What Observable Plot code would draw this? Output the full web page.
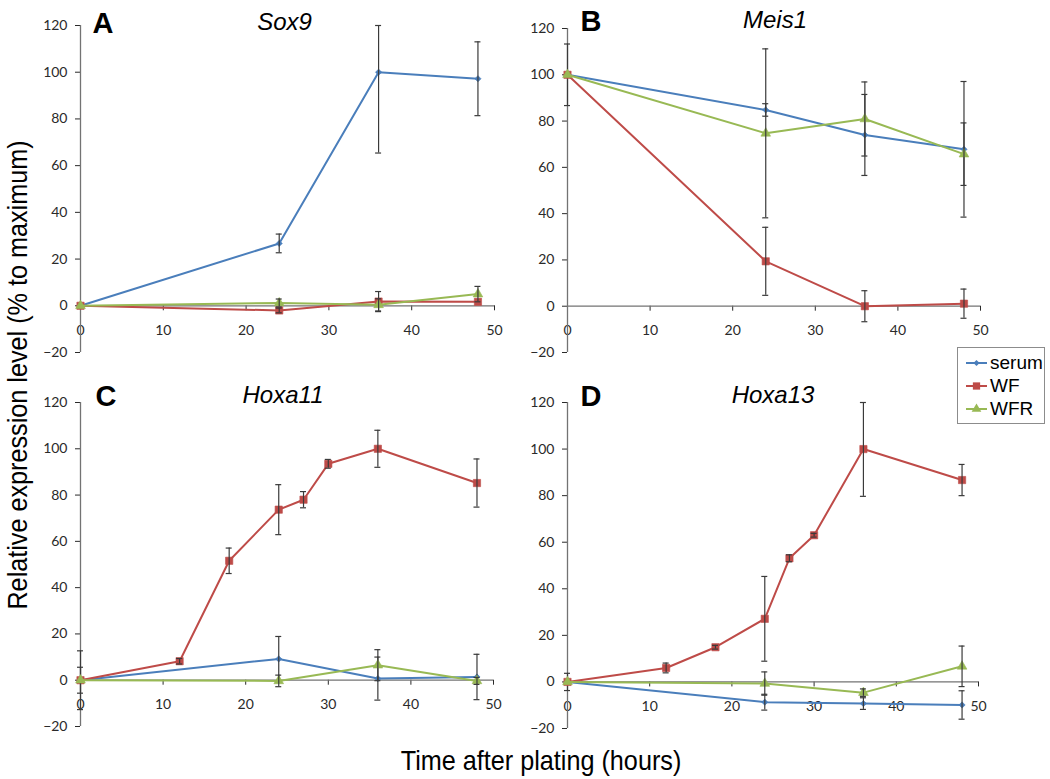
<!DOCTYPE html>
<html>
<head>
<meta charset="utf-8">
<script src="https://cdn.jsdelivr.net/npm/d3@7"></script>
<script src="https://cdn.jsdelivr.net/npm/@observablehq/plot@0.6"></script>
<style>
  body { margin: 0; background: #fff; }
  #root { position: relative; width: 1050px; height: 779px; overflow: hidden; font-family: "Liberation Sans", Arial, sans-serif; background: #fff; }
  .panel { position: absolute; }
  .axislabel { position: absolute; color: #000; font-size: 28px; line-height: 28px; text-align: center; white-space: nowrap; z-index: 5; }
  #legend { position: absolute; left: 957px; top: 347px; width: 88px; height: 77px; border: 1px solid #8c8c8c; background: #fff; z-index: 6; box-sizing: border-box; }
  .litem { position: absolute; left: 0; height: 22px; display: flex; align-items: center; font-size: 19px; color: #000; }
</style>
</head>
<body>
<div id="root"></div>
<script>
// ---- shared categories / ticks ----
const seriesNames = ["serum", "WF", "WFR"];
const seriesColors = ["#4a7ebb", "#be4b48", "#98b954"];
const seriesSymbols = ["diamond2", "square", "triangle"];
const seriesRadius = [2.8, 4.1, 3.6];
const xDomain = [0, 50];
const yDomain = [-20, 120];
const xTicks = [0, 10, 20, 30, 40, 50];
const yTicks = [-20, 0, 20, 40, 60, 80, 100, 120];
const coarseTimes = [0, 24, 36, 48];
const fineTimes = [0, 12, 18, 24, 27, 30, 36, 48];
const panelLetters = ["A", "B", "C", "D"];
const panelGenes = ["Sox9", "Meis1", "Hoxa11", "Hoxa13"];

// ---- A: Sox9 ----
const sox9Serum = [0, 26.7, 100, 97.2];
const sox9SerumErr = [0, 4, 34.6, 15.8];
const sox9WF = [0, -2, 1.8, 1.7];
const sox9WFErr = [0, 1, 4.3, 0];
const sox9WFR = [0, 1.2, 0.4, 5];
const sox9WFRErr = [0, 1.7, 2.6, 3.3];

// ---- B: Meis1 ----
const meis1Serum = [100, 84.8, 74, 67.8];
const meis1SerumErr = [13.3, 2.7, 17.5, 29.3];
const meis1WF = [100, 19.4, 0, 1.1];
const meis1WFErr = [0, 14.7, 6.7, 6.3];
const meis1WFR = [100, 74.7, 80.9, 65.7];
const meis1WFRErr = [0, 36.5, 16, 13.5];

// ---- C: Hoxa11 ----
const hoxa11Serum = [0, 9.2, 0.7, 1.4];
const hoxa11SerumErr = [12.7, 9.7, 9.3, 9.8];
const hoxa11WF = [0, 8.2, 51.6, 73.7, 78, 93.5, 100, 85.2];
const hoxa11WFErr = [5.6, 1.2, 5.5, 10.8, 3.5, 1.9, 8, 10.4];
const hoxa11WFR = [0, -0.3, 6.5, -0.3];
const hoxa11WFRErr = [0, 2.5, 6.7, 1.5];

// ---- D: Hoxa13 ----
const hoxa13Serum = [0, -8.7, -9.3, -9.9];
const hoxa13SerumErr = [3.7, 3.4, 2.5, 6.1];
const hoxa13WF = [0, 6, 14.9, 27.1, 53.1, 63, 100, 86.7];
const hoxa13WFErr = [0, 2.1, 0.8, 18.2, 1.5, 0.8, 20.3, 6.7];
const hoxa13WFR = [0, -0.7, -4.6, 6.7];
const hoxa13WFRErr = [0, 5, 1.6, 8.7];

function rows(times, vals, errs, s) {
  return times.map((t, i) => ({t, v: vals[i], e: errs[i], s}));
}

const panelData = [
  [rows(coarseTimes, sox9Serum, sox9SerumErr, 0), rows(coarseTimes, sox9WF, sox9WFErr, 1), rows(coarseTimes, sox9WFR, sox9WFRErr, 2)],
  [rows(coarseTimes, meis1Serum, meis1SerumErr, 0), rows(coarseTimes, meis1WF, meis1WFErr, 1), rows(coarseTimes, meis1WFR, meis1WFRErr, 2)],
  [rows(coarseTimes, hoxa11Serum, hoxa11SerumErr, 0), rows(fineTimes, hoxa11WF, hoxa11WFErr, 1), rows(coarseTimes, hoxa11WFR, hoxa11WFRErr, 2)],
  [rows(coarseTimes, hoxa13Serum, hoxa13SerumErr, 0), rows(fineTimes, hoxa13WF, hoxa13WFErr, 1), rows(coarseTimes, hoxa13WFR, hoxa13WFRErr, 2)]
];

// ---- layout (pixels) ----
const layouts = [
  {left: 0,   top: 0,   width: 525, height: 370, mL: 80, mR: 31, yRange: [352, 25], lDx: 12, lDy: -13, tDx: -3, tDy: -13},
  {left: 525, top: 0,   width: 525, height: 370, mL: 42, mR: 70, yRange: [352, 28], lDx: 13, lDy: -18, tDx: 1,  tDy: -18},
  {left: 0,   top: 370, width: 525, height: 409, mL: 80, mR: 32, yRange: [356, 32], lDx: 15, lDy: -17, tDx: -4, tDy: -17},
  {left: 525, top: 370, width: 525, height: 409, mL: 42, mR: 72, yRange: [358, 32], lDx: 13, lDy: -17, tDx: 0,  tDy: -17}
];

const axisColor = "#737373";
const errColor = "#3a3a3a";
const root = document.getElementById("root");

layouts.forEach((L, p) => {
  const y0 = L.yRange[1] + (L.yRange[0] - L.yRange[1]) * (yDomain[1] - 0) / (yDomain[1] - yDomain[0]);
  const marks = [
    Plot.ruleY([0], {stroke: axisColor, strokeWidth: 1.3}),
    Plot.ruleX([0], {y1: yDomain[0], y2: yDomain[1], stroke: axisColor, strokeWidth: 1.3})
  ];
  panelData[p].forEach((data, s) => {
    const withErr = data.filter(d => d.e > 0);
    const lo = d => d.v - d.e;
    const hi = d => Math.min(d.v + d.e, yDomain[1]);
    marks.push(
      Plot.line(data, {x: "t", y: "v", stroke: seriesColors[s], strokeWidth: 2}),
      Plot.dot(data, {x: "t", y: "v", symbol: seriesSymbols[s], r: seriesRadius[s], fill: seriesColors[s], stroke: seriesColors[s], strokeWidth: 0.6}),
      Plot.ruleX(withErr, {x: "t", y1: lo, y2: hi, stroke: errColor, strokeWidth: 1.2}),
      Plot.ruleY(withErr, {y: lo, x1: "t", x2: "t", insetLeft: -3, insetRight: -3, stroke: errColor, strokeWidth: 1.2}),
      Plot.ruleY(withErr, {y: hi, x1: "t", x2: "t", insetLeft: -3, insetRight: -3, stroke: errColor, strokeWidth: 1.2})
    );
  });
  marks.push(
    Plot.text([panelLetters[p]], {frameAnchor: "top-left", textAnchor: "start", lineAnchor: "top", dx: L.lDx, dy: L.lDy,
      fontSize: 29, fontWeight: "bold", fontFamily: "Liberation Sans, Arial, sans-serif", fill: "#000"}),
    Plot.text([panelGenes[p]], {frameAnchor: "top", textAnchor: "middle", lineAnchor: "top", dx: L.tDx, dy: L.tDy,
      fontSize: 24, fontStyle: "italic", fontFamily: "Liberation Sans, Arial, sans-serif", fill: "#000"})
  );
  const chart = Plot.plot({
    width: L.width,
    height: L.height,
    marginLeft: L.mL,
    marginRight: L.mR,
    marginTop: L.yRange[1],
    marginBottom: L.height - y0,
    style: {fontFamily: "Lato, 'Open Sans', sans-serif", fontSize: "14px", color: "#2a2a2a", background: "transparent", overflow: "visible"},
    x: {domain: xDomain, ticks: xTicks, tickSize: 5, tickPadding: 14, label: null},
    y: {domain: yDomain, range: L.yRange, ticks: yTicks, tickSize: 5, tickPadding: 8, label: null},
    marks
  });
  chart.classList.add("panel");
  chart.style.left = L.left + "px";
  chart.style.top = L.top + "px";
  root.appendChild(chart);
});

// axis titles
const yLab = document.createElement("div");
yLab.className = "axislabel";
yLab.textContent = "Relative expression level (% to maximum)";
Object.assign(yLab.style, {width: "560px", height: "28px", left: (18 - 280) + "px", top: (375 - 14) + "px", transform: "rotate(-90deg) scaleX(0.9)"});
root.appendChild(yLab);

const xLab = document.createElement("div");
xLab.className = "axislabel";
xLab.textContent = "Time after plating (hours)";
Object.assign(xLab.style, {width: "400px", height: "28px", left: (541 - 200) + "px", top: "747px", transform: "scaleX(0.9)"});
root.appendChild(xLab);

// legend
const legend = document.createElement("div");
legend.id = "legend";
const legendRowTops = [4, 27, 50];
seriesNames.forEach((name, s) => {
  const item = document.createElement("div");
  item.className = "litem";
  item.style.top = legendRowTops[s] + "px";
  const sym = d3.symbol(d3["symbol" + {diamond2: "Diamond2", square: "Square", triangle: "Triangle"}[seriesSymbols[s]]], Math.PI * seriesRadius[s] ** 2)();
  item.innerHTML = `<svg width="31" height="22" style="display:block"><line x1="8" x2="29" y1="11" y2="11" stroke="${seriesColors[s]}" stroke-width="2"/><path d="${sym}" transform="translate(18.5,11)" fill="${seriesColors[s]}"/></svg><span style="margin-left:1px">${name}</span>`;
  legend.appendChild(item);
});
root.appendChild(legend);
</script>
</body>
</html>
